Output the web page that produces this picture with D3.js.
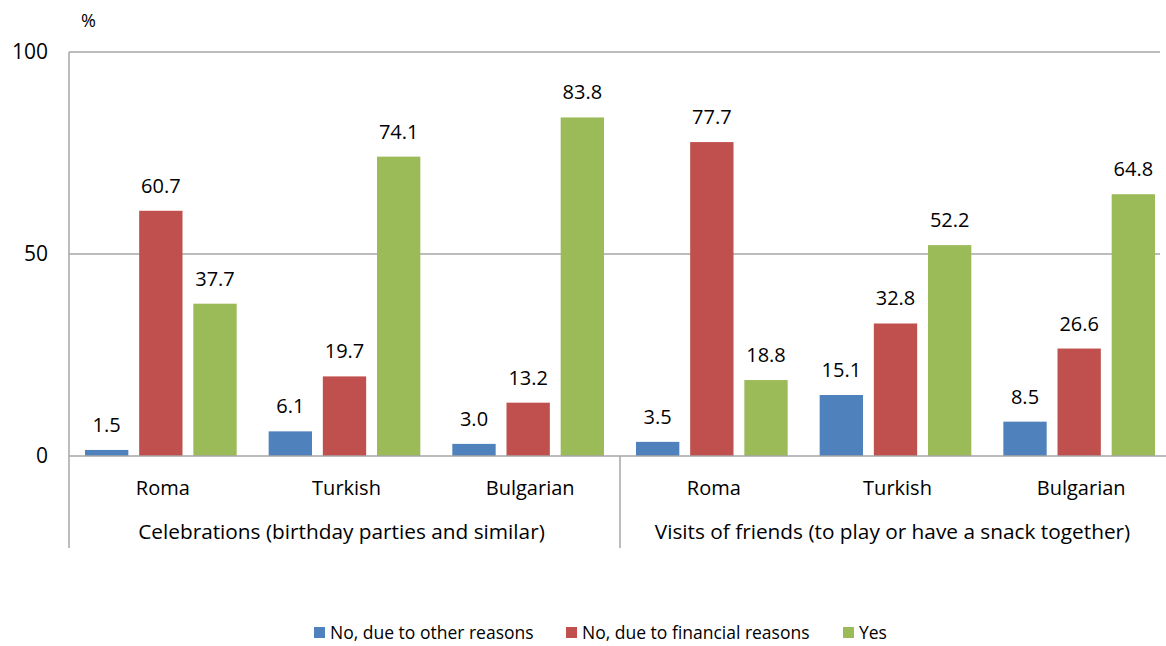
<!DOCTYPE html>
<html><head><meta charset="utf-8">
<script src="https://cdn.jsdelivr.net/npm/d3@7"></script>
<style>body{margin:0;background:#fff;} svg{display:block;font-family:"Open Sans",sans-serif;}</style>
</head><body><svg id="c" width="1166" height="646"></svg>
<script>
const groups = ["Celebrations (birthday parties and similar)", "Visits of friends (to play or have a snack together)"];
const categories = ["Roma", "Turkish", "Bulgarian"];
const seriesNames = ["No, due to other reasons", "No, due to financial reasons", "Yes"];
const colors = ["#4F81BD", "#C0504D", "#9BBB59"];
const otherReasons = [1.5, 6.1, 3.0, 3.5, 15.1, 8.5];
const financialReasons = [60.7, 19.7, 13.2, 77.7, 32.8, 26.6];
const yes = [37.7, 74.1, 83.8, 18.8, 52.2, 64.8];
const yTicks = [0, 50, 100];

const series = [otherReasons, financialReasons, yes];
const svg = d3.select("#c");
const L = 69, R = 1171, T = 52, B = 456;
const keys = [];
groups.forEach((g, gi) => categories.forEach((c, ci) => keys.push(gi + "|" + c)));
const x0 = d3.scaleBand().domain(keys).range([L, R]);
const x1 = d3.scaleBand().domain([0,1,2]).range([16, x0.bandwidth()-16]).paddingInner(0.2);
const y = d3.scaleLinear().domain([0, 100]).range([B, T]);
const grid = "#A6A6A6";
const fs = 20;

// gridlines
svg.append("g").selectAll("line").data(yTicks.filter(t => t > 0)).join("line")
  .attr("x1", L).attr("x2", 1160).attr("y1", d => y(d)).attr("y2", d => y(d))
  .attr("stroke", grid).attr("stroke-width", 1.5);
// y labels
svg.append("g").selectAll("text").data(yTicks).join("text")
  .attr("x", 48).attr("y", d => y(d) + 7).attr("text-anchor", "end")
  .attr("font-size", 21).attr("fill", "#000").text(d => d);
svg.append("text").attr("x", 81).attr("y", 27).attr("font-size", 18).text("%");

// bars
keys.forEach((k, i) => {
  series.forEach((s, si) => {
    const v = s[i];
    const bx = x0(k) + x1(si);
    svg.append("rect").attr("x", bx).attr("width", x1.bandwidth())
      .attr("y", y(v)).attr("height", y(0) - y(v)).attr("fill", colors[si]);
    svg.append("text").attr("x", bx + x1.bandwidth()/2).attr("y", y(v) - 18)
      .attr("text-anchor", "middle").attr("font-size", fs).attr("fill", "#000")
      .text(v.toFixed(1));
  });
});

// axes lines
svg.append("line").attr("x1", L).attr("x2", 1166).attr("y1", B).attr("y2", B).attr("stroke", grid).attr("stroke-width", 1.5);
svg.append("line").attr("x1", L).attr("x2", L).attr("y1", T).attr("y2", 548).attr("stroke", grid).attr("stroke-width", 1.5);
const sepX = x0(keys[3]);
svg.append("line").attr("x1", sepX).attr("x2", sepX).attr("y1", B).attr("y2", 548).attr("stroke", grid).attr("stroke-width", 1.5);

// category labels
svg.append("g").selectAll("text").data(keys).join("text")
  .attr("x", d => x0(d) + x0.bandwidth()/2 + 2).attr("y", 495).attr("text-anchor", "middle")
  .attr("font-size", fs).text(d => d.split("|")[1]);
// group labels
groups.forEach((g, gi) => {
  const a = x0(keys[gi*3]), b = x0(keys[gi*3+2]) + x0.bandwidth();
  svg.append("text").attr("x", (a+b)/2 - 3).attr("y", 539).attr("text-anchor", "middle")
    .attr("font-size", 20.8).text(g);
});

// legend
const legX = [314, 566, 843];
seriesNames.forEach((n, i) => {
  svg.append("rect").attr("x", legX[i]).attr("y", 627).attr("width", 11).attr("height", 11).attr("fill", colors[i]);
  svg.append("text").attr("x", legX[i] + 16).attr("y", 639).attr("font-size", 17.5).text(n);
});
</script></body></html>
